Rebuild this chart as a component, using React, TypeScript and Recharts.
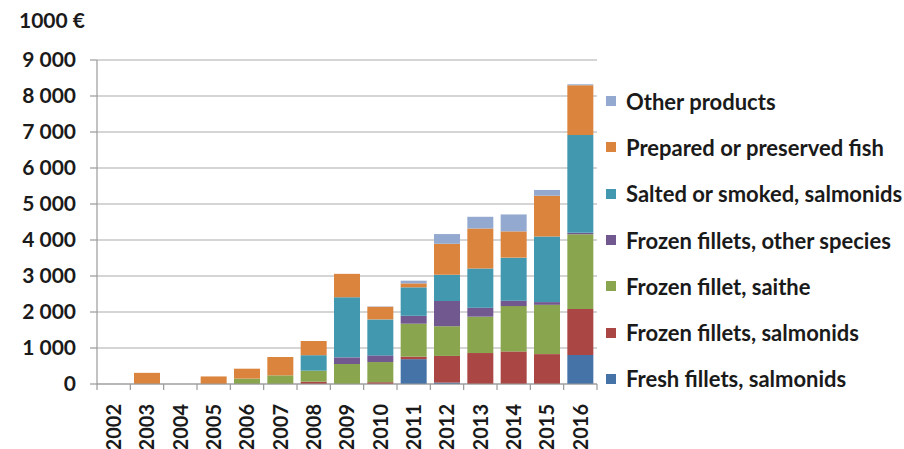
import React from "react";
import {
  BarChart,
  Bar,
  XAxis,
  YAxis,
  CartesianGrid,
} from "recharts";

// values in 1000 €
const years = ["2002", "2003", "2004", "2005", "2006", "2007", "2008", "2009", "2010", "2011", "2012", "2013", "2014", "2015", "2016"];
const freshSalmonids = [0, 0, 0, 0, 0, 0, 0, 0, 0, 690, 40, 0, 0, 0, 805];
const frozenSalmonids = [0, 0, 0, 0, 0, 0, 65, 0, 50, 70, 740, 860, 905, 830, 1280];
const frozenSaithe = [0, 0, 0, 0, 150, 240, 305, 555, 560, 915, 825, 1010, 1260, 1370, 2075];
const frozenOther = [0, 0, 0, 0, 0, 0, 0, 185, 185, 220, 700, 250, 150, 75, 40];
const saltedSmoked = [0, 0, 0, 0, 0, 0, 430, 1670, 1000, 790, 730, 1090, 1195, 1825, 2720];
const prepared = [0, 310, 0, 210, 275, 510, 395, 650, 350, 110, 860, 1110, 730, 1130, 1380];
const otherProducts = [0, 0, 0, 0, 0, 0, 0, 0, 10, 75, 270, 325, 470, 160, 25];

const yTicks = [0, 1000, 2000, 3000, 4000, 5000, 6000, 7000, 8000, 9000];

const series = [
  { key: "fresh", name: "Fresh fillets, salmonids", color: "#4572A7", values: freshSalmonids },
  { key: "frozenSalm", name: "Frozen fillets, salmonids", color: "#AA4643", values: frozenSalmonids },
  { key: "saithe", name: "Frozen fillet, saithe", color: "#89A54E", values: frozenSaithe },
  { key: "frozenOther", name: "Frozen fillets, other species", color: "#71588F", values: frozenOther },
  { key: "salted", name: "Salted or smoked, salmonids", color: "#4198AF", values: saltedSmoked },
  { key: "prepared", name: "Prepared or preserved fish", color: "#DB843D", values: prepared },
  { key: "other", name: "Other products", color: "#93A9CF", values: otherProducts },
];

const data = years.map((year, i) => {
  const row: Record<string, string | number> = { year };
  series.forEach((s) => (row[s.key] = s.values[i]));
  return row;
});

const FONT = "Lato, 'Open Sans', sans-serif";
const AXIS = "#9A9A9A";

const fmt = (v: number) =>
  v >= 1000 ? `${Math.floor(v / 1000)}\u00a0${String(v % 1000).padStart(3, "0")}` : String(v);

// label plus Excel-style tick marks between categories
function YearTick({ x, y, payload, index, visibleTicksCount }: any) {
  const half = payload.offset || 0;
  const last = index === visibleTicksCount - 1;
  return (
    <g transform={`translate(${x},${y})`}>
      <line x1={-half} x2={-half} y1={-6} y2={0} stroke={AXIS} strokeWidth={1.2} />
      {last && <line x1={half} x2={half} y1={-6} y2={0} stroke={AXIS} strokeWidth={1.2} />}
      <text
        transform="translate(0,14) rotate(-90)"
        textAnchor="end"
        dy="0.36em"
        fill="#1a1a1a"
        fontSize={20}
        fontWeight={700}
        fontFamily={FONT}
      >
        {payload.value}
      </text>
    </g>
  );
}

function SideLegend() {
  const items = [...series].reverse();
  return (
    <div style={{ fontFamily: FONT }}>
      {items.map((s) => (
        <div
          key={s.key}
          style={{ display: "flex", alignItems: "center", height: 46.3 }}
        >
          <span
            style={{
              display: "inline-block",
              width: 10,
              height: 10,
              background: s.color,
              marginRight: 10,
            }}
          />
          <span style={{ fontSize: 22, fontWeight: 700, color: "#1a1a1a", whiteSpace: "nowrap" }}>
            {s.name}
          </span>
        </div>
      ))}
    </div>
  );
}

export default function App() {
  return (
    <div style={{ position: "absolute", left: 0, top: 0, width: 904, height: 449, background: "#fff", overflow: "hidden" }}>
      <div
        style={{
          position: "absolute",
          left: 19,
          top: 7,
          fontFamily: FONT,
          fontSize: 21,
          fontWeight: 700,
          color: "#1a1a1a",
        }}
      >
        1000 €
      </div>
      <BarChart
        width={904}
        height={449}
        data={data}
        margin={{ top: 60, right: 307, bottom: 0, left: 0 }}
        barCategoryGap="11%"
      >
        <CartesianGrid vertical={false} stroke="#ABABAB" strokeWidth={1.2} />
        <XAxis
          dataKey="year"
          height={65}
          tickLine={false}
          tickSize={6}
          tickMargin={0}
          axisLine={{ stroke: AXIS, strokeWidth: 1.2 }}
          tick={<YearTick />}
          interval={0}
        />
        <YAxis
          width={97}
          domain={[0, 9000]}
          ticks={yTicks}
          tickFormatter={fmt}
          tickSize={7}
          tickMargin={14}
          tickLine={{ stroke: AXIS, strokeWidth: 1.2 }}
          axisLine={{ stroke: AXIS, strokeWidth: 1.2 }}
          tick={{ fill: "#1a1a1a", fontSize: 21, fontWeight: 700, fontFamily: FONT }}
        />
        {series.map((s) => (
          <Bar
            key={s.key}
            dataKey={s.key}
            name={s.name}
            stackId="a"
            fill={s.color}
            isAnimationActive={false}
          />
        ))}
      </BarChart>
      <div style={{ position: "absolute", left: 606, top: 78 }}>
        <SideLegend />
      </div>
    </div>
  );
}
